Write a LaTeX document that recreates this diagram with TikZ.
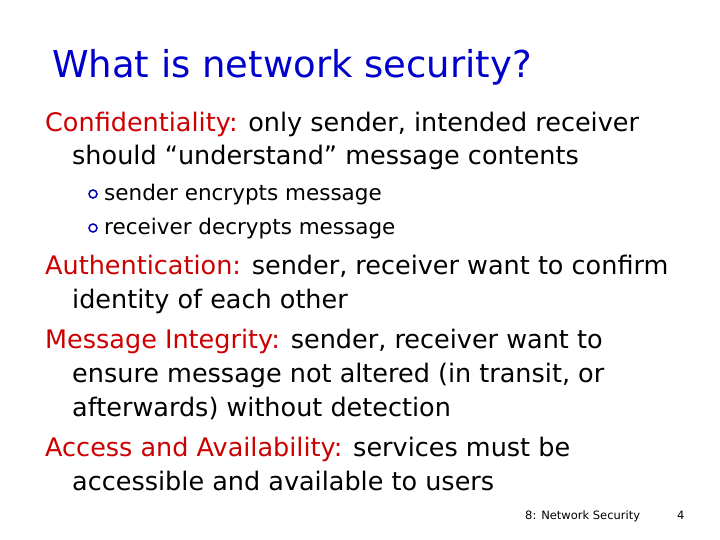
\documentclass[tikz,border=0pt]{standalone}
\usepackage{fontspec}
\setmainfont{DejaVu Sans}
\definecolor{ttl}{RGB}{0,0,204}
\definecolor{lbl}{RGB}{204,0,0}
\begin{document}
\begin{tikzpicture}[x=1pt,y=-1pt,
  body/.style={anchor=base west,inner sep=0,font=\fontsize{25.5}{30}\selectfont},
  small/.style={anchor=base west,inner sep=0,font=\fontsize{21.5}{25}\selectfont},
  bul/.style={circle,draw=blue!70!black,line width=1.5pt,inner sep=0,minimum size=8pt}]
\useasboundingbox (0,0) rectangle (720,540);
\node[anchor=base west,inner sep=0,font=\fontsize{37}{42}\selectfont,text=ttl] (t) at (52,78) {What is network security?};
\node[body] (c1) at (45,132) {\textcolor{lbl}{Confidentiality:} only sender, intended receiver};
\node[body] (c2) at (72,165) {should “understand” message contents};
\node[bul] (b1) at (93,194) {};
\node[small] (s1) at (104,201) {sender encrypts message};
\node[bul] (b2) at (93,228) {};
\node[small] (s2) at (104,235) {receiver decrypts message};
\node[body] (a1) at (45,274) {\textcolor{lbl}{Authentication:} sender, receiver want to confirm};
\node[body] (a2) at (72,308) {identity of each other};
\node[body] (m1) at (45,348) {\textcolor{lbl}{Message Integrity:} sender, receiver want to};
\node[body] (m2) at (72,382) {ensure message not altered (in transit, or};
\node[body] (m3) at (72,416) {afterwards) without detection};
\node[body] (v1) at (45,456) {\textcolor{lbl}{Access and Availability:} services must be};
\node[body] (v2) at (72,490) {accessible and available to users};
\node[anchor=base west,inner sep=0,font=\fontsize{11.5}{13}\selectfont] (f) at (525,519) {8: Network Security};
\node[anchor=base west,inner sep=0,font=\fontsize{11.5}{13}\selectfont] (p) at (677,519) {4};
\end{tikzpicture}
\end{document}
